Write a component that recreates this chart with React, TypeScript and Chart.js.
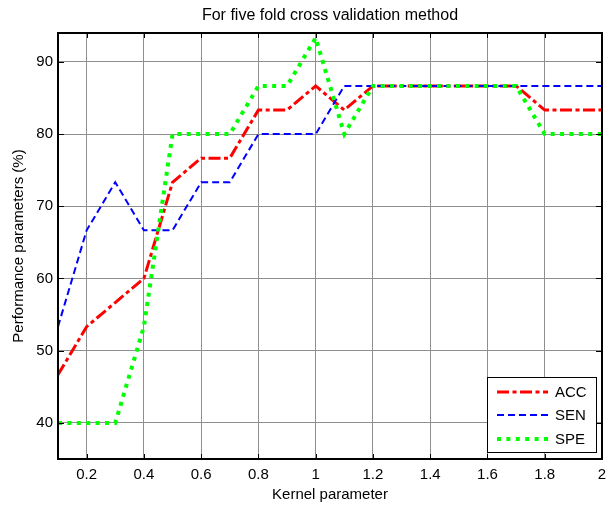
import React, { useEffect, useRef } from "react";
import { Chart, registerables } from "chart.js";

Chart.register(...registerables);

const TITLE = "For five fold cross validation method";
const X_LABEL = "Kernel parameter";
const Y_LABEL = "Performance parameters (%)";

const KERNEL = [0.1, 0.2, 0.3, 0.4, 0.5, 0.6, 0.7, 0.8, 0.9, 1.0, 1.1, 1.2, 1.3, 1.4, 1.5, 1.6, 1.7, 1.8, 1.9, 2.0];
const ACC = [46.67, 53.33, 56.67, 60, 73.33, 76.67, 76.67, 83.33, 83.33, 86.67, 83.33, 86.67, 86.67, 86.67, 86.67, 86.67, 86.67, 83.33, 83.33, 83.33];
const SEN = [53.33, 66.67, 73.33, 66.67, 66.67, 73.33, 73.33, 80, 80, 80, 86.67, 86.67, 86.67, 86.67, 86.67, 86.67, 86.67, 86.67, 86.67, 86.67];
const SPE = [40, 40, 40, 53.33, 80, 80, 80, 86.67, 86.67, 93.33, 80, 86.67, 86.67, 86.67, 86.67, 86.67, 86.67, 80, 80, 80];
const SERIES_NAMES = ["ACC", "SEN", "SPE"];

const X_TICKS = [0.2, 0.4, 0.6, 0.8, 1, 1.2, 1.4, 1.6, 1.8, 2];
const Y_TICKS = [40, 50, 60, 70, 80, 90];

const FONT = '"Liberation Sans", Arial, Helvetica, sans-serif';

const framePlugin = {
  id: "frame",
  afterDatasetsDraw(chart: any) {
    const { ctx, chartArea: a, scales } = chart;
    ctx.save();
    ctx.strokeStyle = "#000";
    ctx.lineWidth = 1;
    ctx.setLineDash([]);
    X_TICKS.forEach((v) => {
      const x = Math.round(scales.x.getPixelForValue(v)) + 0.5;
      ctx.beginPath();
      ctx.moveTo(x, a.top);
      ctx.lineTo(x, a.top + 5);
      ctx.moveTo(x, a.bottom);
      ctx.lineTo(x, a.bottom - 5);
      ctx.stroke();
    });
    Y_TICKS.forEach((v) => {
      const y = Math.round(scales.y.getPixelForValue(v)) + 0.5;
      ctx.beginPath();
      ctx.moveTo(a.left, y);
      ctx.lineTo(a.left + 6, y);
      ctx.moveTo(a.right, y);
      ctx.lineTo(a.right - 6, y);
      ctx.stroke();
    });
    ctx.lineWidth = 2;
    ctx.strokeRect(a.left, a.top, a.right - a.left, a.bottom - a.top);
    ctx.restore();
  },
  afterDraw(chart: any) {
    const { ctx, chartArea: a } = chart;
    ctx.save();
    // title
    ctx.fillStyle = "#000";
    ctx.font = `16px ${FONT}`;
    ctx.textAlign = "center";
    ctx.textBaseline = "middle";
    ctx.fillText(TITLE, (a.left + a.right) / 2, 16);

    // legend
    const bw = 109;
    const bh = 75;
    const bx = a.right - 6 - bw;
    const by = a.bottom - 7 - bh;
    ctx.fillStyle = "#fff";
    ctx.fillRect(bx, by, bw, bh);
    ctx.strokeStyle = "#000";
    ctx.lineWidth = 1;
    ctx.setLineDash([]);
    ctx.strokeRect(bx + 0.5, by + 0.5, bw, bh);
    const rows = [15, 38, 62];
    chart.data.datasets.forEach((ds: any, i: number) => {
      const y = by + rows[i];
      ctx.save();
      ctx.strokeStyle = ds.borderColor;
      ctx.lineWidth = ds.borderWidth;
      ctx.setLineDash(ds.borderDash || []);
      ctx.lineCap = "butt";
      ctx.beginPath();
      ctx.moveTo(bx + 10, y);
      ctx.lineTo(bx + 61, y);
      ctx.stroke();
      ctx.restore();
      ctx.fillStyle = "#000";
      ctx.font = `15px ${FONT}`;
      ctx.textAlign = "left";
      ctx.textBaseline = "middle";
      ctx.fillText(SERIES_NAMES[i], bx + 68, y + 1);
    });
    ctx.restore();
  },
};

function toPoints(ys: number[]) {
  return ys.map((y, i) => ({ x: KERNEL[i], y }));
}

export default function App() {
  const canvasRef = useRef<HTMLCanvasElement | null>(null);

  useEffect(() => {
    if (!canvasRef.current) return;
    Chart.defaults.font.family = FONT;
    const chart = new Chart(canvasRef.current, {
      type: "line",
      data: {
        datasets: [
          {
            label: SERIES_NAMES[0],
            data: toPoints(ACC),
            borderColor: "#ff0000",
            borderWidth: 3,
            borderDash: [12, 3.5, 4, 3.5],
            borderCapStyle: "butt",
            pointRadius: 0,
            tension: 0,
            fill: false,
            order: 2,
          },
          {
            label: SERIES_NAMES[1],
            data: toPoints(SEN),
            borderColor: "#0000ff",
            borderWidth: 2,
            borderDash: [7, 4],
            borderCapStyle: "butt",
            pointRadius: 0,
            tension: 0,
            fill: false,
            order: 1,
          },
          {
            label: SERIES_NAMES[2],
            data: toPoints(SPE),
            borderColor: "#00ff00",
            borderWidth: 4,
            borderDash: [4, 5.4],
            borderCapStyle: "butt",
            pointRadius: 0,
            tension: 0,
            fill: false,
            order: 0,
          },
        ],
      },
      options: {
        animation: false,
        responsive: false,
        maintainAspectRatio: false,
        layout: { padding: { top: 33, right: 4, left: 0, bottom: 0 } },
        plugins: {
          legend: { display: false },
          title: { display: false },
          tooltip: { enabled: false },
        },
        scales: {
          x: {
            type: "linear",
            min: 0.1,
            max: 2,
            afterBuildTicks: (scale: any) => {
              scale.ticks = X_TICKS.map((v) => ({ value: v }));
            },
            afterFit: (scale: any) => {
              scale.height = 47;
              scale.paddingLeft = 0;
              scale.paddingRight = 0;
            },
            ticks: {
              color: "#000",
              font: { size: 15 },
              padding: 7,
              maxRotation: 0,
              autoSkip: false,
              callback: (v: any) => String(Math.round(Number(v) * 10) / 10),
            },
            grid: { color: "#8f8f8f", lineWidth: 1, drawTicks: false },
            border: { display: false },
            title: {
              display: true,
              text: X_LABEL,
              color: "#000",
              font: { size: 15 },
              padding: { top: 0, bottom: 2 },
            },
          },
          y: {
            type: "linear",
            min: 35,
            max: 94,
            afterBuildTicks: (scale: any) => {
              scale.ticks = Y_TICKS.map((v) => ({ value: v }));
            },
            afterFit: (scale: any) => {
              scale.width = 58;
              scale.paddingTop = 0;
              scale.paddingBottom = 0;
            },
            ticks: {
              color: "#000",
              font: { size: 15 },
              padding: 5,
              autoSkip: false,
            },
            grid: { color: "#8f8f8f", lineWidth: 1, drawTicks: false },
            border: { display: false },
            title: {
              display: true,
              text: Y_LABEL,
              color: "#000",
              font: { size: 15 },
              padding: { top: 10, bottom: 0 },
            },
          },
        },
      },
      plugins: [framePlugin],
    } as any);
    return () => chart.destroy();
  }, []);

  return (
    <div style={{ position: "fixed", left: 0, top: 0, width: 606, height: 506, background: "#fff" }}>
      <canvas ref={canvasRef} width={606} height={506} style={{ display: "block", width: 606, height: 506 }} />
    </div>
  );
}
